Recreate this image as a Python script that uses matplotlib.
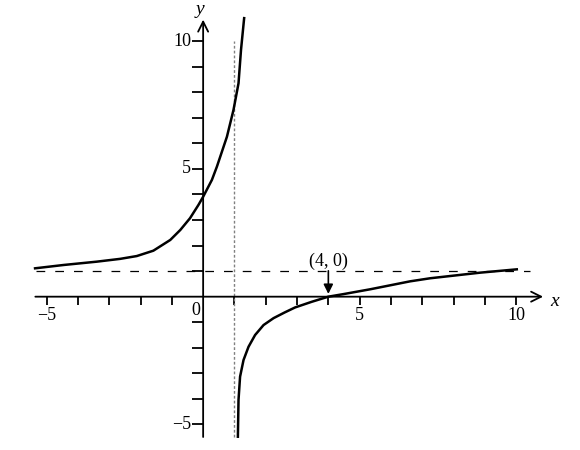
import matplotlib.pyplot as plt
import numpy as np

plt.rcParams['font.family'] = ['Liberation Serif', 'DejaVu Serif']

# 左支（x < 1）
left_x = [-5.37, -4.46, -3.40, -2.65, -2.12, -1.59, -1.05, -0.73, -0.42, -0.15, 0.0,
          0.28, 0.44, 0.76, 0.97, 1.13, 1.21, 1.31]
left_y = [1.11, 1.24, 1.37, 1.48, 1.59, 1.80, 2.22, 2.61, 3.07, 3.59, 3.91,
          4.57, 5.09, 6.26, 7.31, 8.35, 9.66, 10.9]

# 右支（x > 1）
right_x = [1.11, 1.13, 1.18, 1.29, 1.45, 1.66, 1.93, 2.25, 2.60, 2.94, 3.47, 4.0,
           4.48, 5.34, 6.61, 7.25, 8.85, 10.02]
right_y = [-5.48, -4.04, -3.13, -2.48, -1.96, -1.50, -1.11, -0.84, -0.62, -0.42, -0.20, 0.0,
           0.10, 0.29, 0.60, 0.72, 0.94, 1.07]

# 渐近线
h_asym = 1.0
v_asym = 1.0

x_ticks = [-5, -4, -3, -2, -1, 1, 2, 3, 4, 5, 6, 7, 8, 9, 10]
y_ticks = [-5, -4, -3, -2, -1, 1, 2, 3, 4, 5, 6, 7, 8, 9, 10]
x_labels = {-5: '\u22125', 5: '5', 10: '10'}
y_labels = {-5: '\u22125', 5: '5', 10: '10'}

point = (4, 0)

fig = plt.figure(figsize=(5.8, 4.5), dpi=100)
ax = fig.add_axes([0, 0, 1, 1])
ax.set_xlim(-6.49, 12.04)
ax.set_ylim(-6.0, 11.61)
ax.axis('off')

# 坐标轴
ax.annotate('', xy=(10.95, 0), xytext=(-5.45, 0),
            arrowprops=dict(arrowstyle='->', lw=1.3, color='black', mutation_scale=18))
ax.annotate('', xy=(0, 10.95), xytext=(0, -5.6),
            arrowprops=dict(arrowstyle='->', lw=1.3, color='black', mutation_scale=18))
ax.vlines(x_ticks, -0.32, 0, color='black', lw=1.3)
ax.hlines(y_ticks, -0.35, 0, color='black', lw=1.3)

for v, s in x_labels.items():
    ax.text(v, -0.42, s, ha='center', va='top', fontsize=13)
for v, s in y_labels.items():
    ax.text(-0.38, v, s, ha='right', va='center', fontsize=13)
ax.text(-0.22, -0.2, '0', ha='center', va='top', fontsize=13)
ax.text(11.1, -0.2, 'x', ha='left', va='center', fontsize=14, style='italic')
ax.text(-0.1, 11.25, 'y', ha='center', va='center', fontsize=14, style='italic')

# 渐近线（虚线）
ax.plot([-5.35, 10.45], [h_asym, h_asym], color='black', lw=0.9, dashes=(7, 8))
ax.plot([v_asym, v_asym], [-5.5, 10.0], color='gray', lw=1.0, dashes=(2, 1.5))

# 曲线
ax.plot(left_x, left_y, color='black', lw=1.8, solid_joinstyle='round')
ax.plot(right_x, right_y, color='black', lw=1.8, solid_joinstyle='round')

# (4, 0) 标注
ax.annotate('', xy=point, xytext=(point[0], 1.12),
            arrowprops=dict(arrowstyle='-|>', lw=1.2, color='black', mutation_scale=14))
ax.text(point[0], 1.38, '(4, 0)', ha='center', va='center', fontsize=13)

fig.savefig('out.png', dpi=100)
